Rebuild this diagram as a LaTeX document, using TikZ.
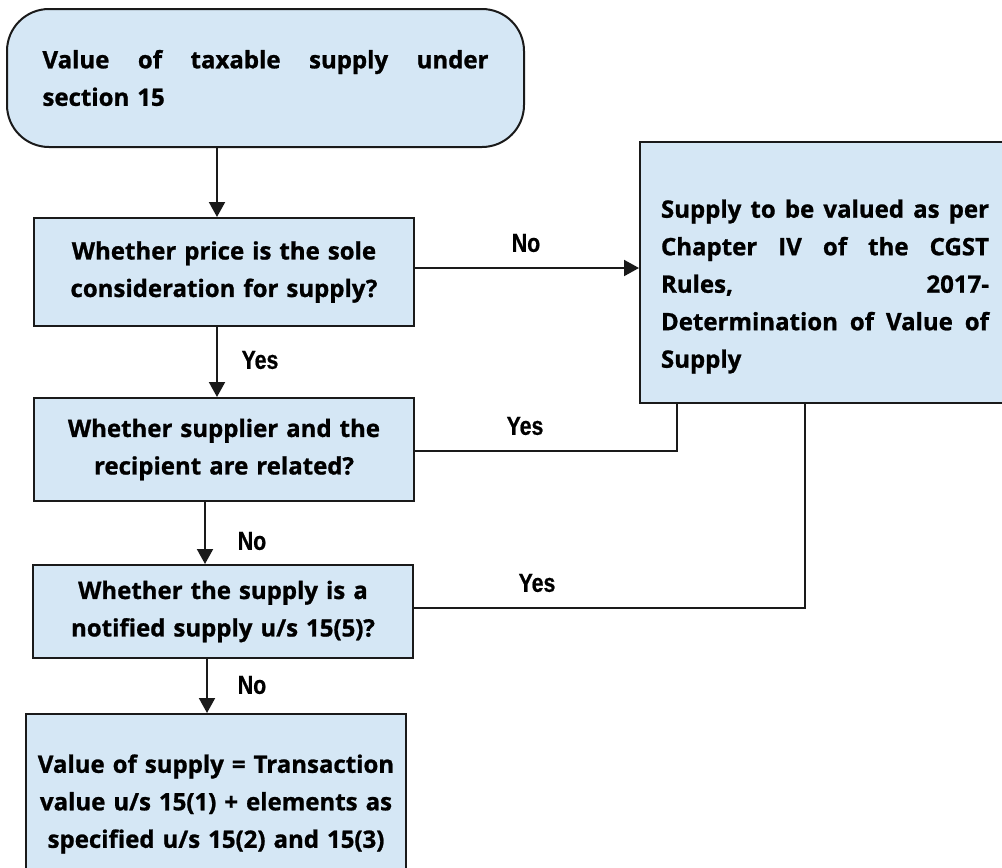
\documentclass[tikz,border=0pt]{standalone}
\usepackage{fontspec}
\setmainfont{Open Sans}[BoldFeatures={FakeBold=1}]
\newfontfamily\lblfont[FakeStretch=0.82,BoldFeatures={FakeBold=0.6}]{Liberation Sans}
\usetikzlibrary{arrows.meta,positioning}
\definecolor{boxblue}{HTML}{D5E7F5}
\definecolor{boxline}{HTML}{1A1A1A}
\newcommand{\fullline}[2]{\leavevmode\hbox to #1{#2}}

\begin{document}
\begin{tikzpicture}[x=1pt,y=-1pt,
  box/.style={draw=boxline, fill=boxblue, line width=2pt, inner sep=0pt, font=\fontsize{24pt}{37.5pt}\selectfont\bfseries, align=center},
  flow/.style={draw=boxline, line width=2pt, -{Triangle[length=15pt,width=16pt]}},
  link/.style={draw=boxline, line width=2pt},
  lbl/.style={font=\lblfont\fontsize{26pt}{26pt}\selectfont\bfseries}]
\useasboundingbox (0,0) rectangle (1002,868);
\node[box, rounded corners=42pt, minimum width=517pt, minimum height=138pt, text width=446pt, align=left] (node_start) at (265.5,78) {\fullline{446pt}{Value\hfill of\hfill taxable\hfill supply\hfill under}\\section 15};
\node[box, minimum width=380pt, minimum height=108pt, text width=370pt] (node_price) at (224,272) {Whether price is the sole\\consideration for supply?};
\node[box, minimum width=380pt, minimum height=103pt, text width=370pt] (node_related) at (224,449.5) {Whether supplier and the\\recipient are related?};
\node[box, minimum width=380pt, minimum height=93pt, text width=370pt] (node_notified) at (223,611.5) {Whether the supply is a\\notified supply u/s 15(5)?};
\node[box, minimum width=380pt, minimum height=180pt, text width=370pt] (node_value) at (216,804) {Value of supply = Transaction\\value u/s 15(1) + elements as\\specified u/s 15(2) and 15(3)};
\node[box, minimum width=370pt, minimum height=261pt] (node_rules) at (825,272.5) {};
\node[box, draw=none, fill=none, text width=328pt, align=left] (node_rulestext) at (825,286.5) {\fullline{328pt}{Supply\hfill to\hfill be\hfill valued\hfill as\hfill per}\\\fullline{328pt}{Chapter\hfill IV\hfill of\hfill the\hfill CGST}\\\fullline{328pt}{Rules,\hfill 2017-}\\\fullline{328pt}{Determination\hfill of\hfill Value\hfill of}\\Supply};
\draw[flow] ([xshift=-7pt]node_price.north |- node_start.south) -- ([xshift=-7pt]node_price.north);
\draw[flow] ([xshift=-7pt]node_price.south) -- ([xshift=-7pt]node_related.north);
\draw[flow] ([xshift=-18pt]node_notified.north |- node_related.south) -- ([xshift=-18pt]node_notified.north);
\draw[flow] ([xshift=-9pt]node_value.north |- node_notified.south) -- ([xshift=-9pt]node_value.north);
\draw[flow] ([yshift=4pt]node_price.east) -- ([yshift=4pt]node_price.east -| node_rules.west);
\draw[link] ([yshift=-1.5pt]node_related.east) -| ([xshift=38pt]node_rules.south west);
\draw[link] ([yshift=3.5pt]node_notified.east) -| ([xshift=166pt]node_rules.south west);
\node[lbl] (lbl_no_a) at (526,243) {No};
\node[lbl] (lbl_yes_a) at (260,360) {Yes};
\node[lbl] (lbl_yes_b) at (525,426) {Yes};
\node[lbl] (lbl_no_b) at (252,541) {No};
\node[lbl] (lbl_yes_c) at (537,583) {Yes};
\node[lbl] (lbl_no_c) at (252,685) {No};
\end{tikzpicture}
\end{document}
